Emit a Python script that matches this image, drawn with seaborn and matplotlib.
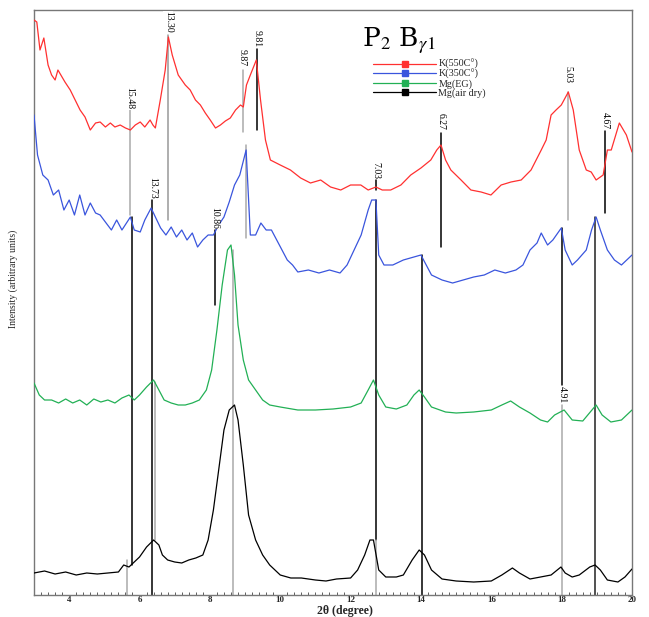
import numpy as np
import pandas as pd
import matplotlib
matplotlib.use("Agg")
import matplotlib.pyplot as plt
from matplotlib.lines import Line2D
import seaborn as sns

sns.set_theme(style="white")
plt.rcParams["font.family"] = ["Liberation Serif", "DejaVu Serif"]
plt.rcParams["mathtext.fontset"] = "stix"

# ---------------- data ----------------
k550_x = [3.0, 3.08, 3.17, 3.28, 3.40, 3.5, 3.60, 3.68, 3.88, 4.03, 4.17, 4.31, 4.45, 4.60, 4.75, 4.88,
          5.03, 5.17, 5.3, 5.45, 5.6, 5.74, 5.88, 6.02, 6.15, 6.30, 6.38, 6.45, 6.59, 6.73, 6.82, 6.93,
          7.10, 7.30, 7.44, 7.59, 7.73, 7.87, 8.01, 8.16, 8.30, 8.44, 8.58, 8.73, 8.87, 8.95, 9.04, 9.15,
          9.32, 9.44, 9.58, 9.72, 10.0, 10.29, 10.58, 10.86, 11.15, 11.43, 11.72, 12.0, 12.29, 12.5,
          12.72, 12.9, 13.14, 13.43, 13.71, 14.0, 14.28, 14.45, 14.57, 14.7, 14.85, 15.14, 15.42, 15.71,
          15.99, 16.28, 16.56, 16.85, 17.13, 17.42, 17.56, 17.70, 17.84, 17.99, 18.19, 18.33, 18.5, 18.7,
          18.84, 18.98, 19.18, 19.30, 19.41, 19.64, 19.84, 20.0]
k550_y = [575, 573, 545, 557, 530, 520, 515, 525, 513, 505, 495, 485, 478, 465, 472, 473,
          468, 472, 468, 470, 467, 465, 470, 473, 468, 475, 470, 467, 495, 525, 558, 540,
          520, 510, 505, 495, 490, 482, 475, 467, 470, 474, 477, 485, 490, 488, 510, 520,
          535, 495, 455, 435, 430, 425, 417, 412, 415, 408, 405, 410, 410, 405,
          408, 405, 405, 410, 420, 427, 435, 445, 450, 435, 425, 415, 405, 403,
          400, 410, 413, 415, 425, 445, 455, 480, 485, 490, 503, 485, 445, 425,
          423, 415, 420, 445, 445, 472, 460, 443]

k350_x = [3.0, 3.1, 3.25, 3.4, 3.55, 3.7, 3.85, 4.0, 4.15, 4.3, 4.45, 4.6, 4.75, 4.88, 5.05, 5.2,
          5.35, 5.5, 5.74, 5.85, 6.02, 6.15, 6.33, 6.45, 6.6, 6.75, 6.9, 7.05, 7.2, 7.35, 7.5, 7.65,
          7.8, 7.95, 8.1, 8.25, 8.4, 8.55, 8.7, 8.85, 9.03, 9.15, 9.3, 9.45, 9.6, 9.75, 9.9, 10.05,
          10.2, 10.35, 10.5, 10.8, 11.1, 11.4, 11.7, 11.9, 12.1, 12.3, 12.5, 12.6, 12.72, 12.8, 12.95,
          13.2, 13.5, 13.8, 14.0, 14.15, 14.3, 14.6, 14.9, 15.2, 15.5, 15.8, 16.1, 16.4, 16.7, 16.9,
          17.1, 17.3, 17.42, 17.6, 17.75, 17.99, 18.1, 18.3, 18.45, 18.7, 18.85, 18.98, 19.1, 19.3,
          19.5, 19.7, 19.85, 20.0]
k350_y = [480, 440, 420, 415, 400, 405, 385, 395, 380, 400, 380, 392, 382, 380, 372, 365,
          375, 365, 378, 365, 363, 375, 387, 378, 367, 360, 368, 358, 365, 355, 362, 348,
          355, 360, 360, 370, 378, 393, 410, 420, 445, 360, 360, 372, 365, 365, 355, 345,
          335, 330, 323, 325, 322, 325, 322, 330, 345, 360, 385, 395, 395, 340, 330,
          330, 335, 338, 340, 330, 320, 315, 312, 315, 318, 320, 325, 322, 325, 330,
          345, 352, 362, 350, 355, 367, 345, 330, 335, 345, 365, 378, 365, 345,
          335, 330, 335, 340]

mgeg_x = [3.0, 3.15, 3.3, 3.5, 3.7, 3.9, 4.1, 4.3, 4.5, 4.7, 4.9, 5.1, 5.3, 5.5, 5.7, 5.85, 6.0,
          6.2, 6.4, 6.55, 6.7, 6.9, 7.1, 7.3, 7.5, 7.7, 7.9, 8.05, 8.2, 8.35, 8.5, 8.6, 8.7, 8.8,
          8.95, 9.1, 9.3, 9.5, 9.7, 10.0, 10.5, 11.0, 11.5, 12.0, 12.3, 12.5, 12.65, 12.8, 13.0,
          13.3, 13.6, 13.8, 13.95, 14.1, 14.3, 14.7, 15.0, 15.5, 16.0, 16.3, 16.55, 16.8, 17.1,
          17.4, 17.6, 17.8, 18.07, 18.3, 18.6, 18.98, 19.15, 19.4, 19.7, 20.0]
mgeg_y = [212, 200, 195, 195, 192, 196, 192, 195, 190, 196, 193, 195, 192, 197, 200, 195, 200,
          208, 215, 205, 195, 192, 190, 190, 192, 195, 205, 225, 265, 310, 345, 350, 320, 270,
          235, 215, 205, 195, 190, 188, 185, 185, 186, 188, 192, 205, 215, 200, 188,
          186, 190, 200, 205, 198, 188, 183, 182, 183, 185, 190, 194, 188, 182,
          175, 173, 180, 185, 175, 174, 190, 180, 173, 175, 185]

mgair_x = [3.0, 3.3, 3.6, 3.9, 4.2, 4.5, 4.8, 5.1, 5.4, 5.55, 5.7, 5.85, 6.0, 6.2, 6.4, 6.55,
           6.65, 6.8, 7.0, 7.2, 7.4, 7.6, 7.8, 7.95, 8.1, 8.25, 8.4, 8.55, 8.7, 8.8, 8.95, 9.1,
           9.3, 9.5, 9.7, 10.0, 10.3, 10.6, 11.0, 11.3, 11.6, 12.0, 12.2, 12.4, 12.55, 12.65, 12.8,
           13.0, 13.3, 13.5, 13.75, 13.95, 14.1, 14.3, 14.6, 15.0, 15.5, 16.0, 16.3, 16.6, 16.8,
           17.1, 17.4, 17.7, 17.98, 18.1, 18.3, 18.5, 18.8, 18.95, 19.1, 19.3, 19.6, 19.8, 20.0]
mgair_y = [22, 24, 21, 23, 20, 22, 21, 22, 23, 30, 28, 33, 38, 48, 55, 50,
           40, 35, 33, 32, 35, 37, 40, 55, 85, 125, 165, 185, 190, 175, 130, 80,
           55, 40, 30, 20, 17, 17, 15, 14, 16, 17, 25, 40, 55, 55, 25,
           18, 18, 20, 35, 45, 40, 25, 16, 14, 13, 14, 20, 27, 22,
           16, 18, 20, 28, 22, 18, 20, 28, 30, 25, 15, 13, 18, 26]

series_names = ["K(550C°)", "K(350C°)", "Mg(EG)", "Mg(air dry)"]
series_colors = ["#ff3030", "#3a55dd", "#22b055", "#000000"]

# peak labels (d-spacing text, 2theta, label centre intensity)
peak_text = ["15.48", "13.30", "9.87", "9.81", "13.73", "10.86", "7.03", "6.27", "5.03", "4.67", "4.91"]
peak_2theta = [5.72, 6.82, 8.93, 9.33, 6.36, 8.15, 12.72, 14.57, 18.19, 19.24, 18.02]
peak_label_y = [497, 573, 537, 556, 407, 377, 425, 474, 520, 474, 200]

# marker lines (2theta, top, bottom, colour)
line_2theta = [5.72, 6.82, 8.93, 9.33, 6.36, 8.15, 12.72, 12.72, 12.72, 14.57, 18.19, 19.24,
               5.79, 5.65, 6.44, 9.03, 8.67, 14.02, 18.0, 18.02, 18.95]
line_top = [485, 560, 525, 546, 395, 365, 415, 395, 55, 462, 503, 464,
            378, 35, 213, 450, 345, 340, 367, 190, 378]
line_bottom = [380, 375, 463, 465, 0, 290, 405, 55, 0, 348, 375, 382,
               30, 0, 55, 357, 0, 0, 210, 0, 0]
line_color = ["#aaaaaa", "#999999", "#aaaaaa", "#000000", "#000000", "#000000", "#000000", "#000000",
              "#aaaaaa", "#000000", "#aaaaaa", "#000000",
              "#000000", "#aaaaaa", "#aaaaaa", "#aaaaaa", "#aaaaaa", "#000000", "#000000", "#aaaaaa",
              "#222222"]

# ---------------- figure ----------------
frames = []
for name, xs, ys in zip(series_names, [k550_x, k350_x, mgeg_x, mgair_x],
                        [k550_y, k350_y, mgeg_y, mgair_y]):
    frames.append(pd.DataFrame({"two_theta": xs, "intensity": ys, "sample": name}))
df = pd.concat(frames, ignore_index=True)

fig = plt.figure(figsize=(6.49, 6.17), dpi=100)
ax = fig.add_axes([34 / 649, 22 / 617, (632 - 34) / 649, (595 - 10) / 617])

for x, t, b, c in zip(line_2theta, line_top, line_bottom, line_color):
    ax.plot([x, x], [b, t], color=c, lw=1.1, zorder=1)

sns.lineplot(data=df, x="two_theta", y="intensity", hue="sample", hue_order=series_names,
             palette=dict(zip(series_names, series_colors)), estimator=None, sort=False,
             lw=0.9, legend=False, ax=ax, zorder=3)

for txt, x, y in zip(peak_text, peak_2theta, peak_label_y):
    ax.text(x, y, txt, rotation=270, ha="center", va="center", fontsize=7,
            color="black", zorder=4,
            bbox=dict(boxstyle="square,pad=0.05", fc="white", ec="none"))

ax.set_xlim(3, 20)
ax.set_ylim(0, 585)
ax.set_xticks(np.arange(4, 21, 2))
ax.set_xticklabels([str(v) for v in range(4, 21, 2)], fontsize=6.5, fontweight="bold")
ax.set_xticks(np.arange(3, 20.01, 0.2), minor=True)
ax.set_yticks([])
ax.tick_params(axis="x", which="major", direction="in", length=4, width=0.8, pad=1.0, color="#444444")
ax.tick_params(axis="x", which="minor", direction="in", length=2, width=0.6, color="#444444",
               bottom=True)
for s in ax.spines.values():
    s.set_color("#777777")
    s.set_linewidth(1.0)

ax.set_xlabel("2θ (degree)", fontsize=8.5, fontweight="bold", labelpad=0, va="center")
ax.xaxis.set_label_coords(0.52, -0.0275)
ax.set_ylabel("Intensity (arbitrary units)", fontsize=7)
ax.yaxis.set_label_coords(-0.027, 0.54)

ax.text(0.548, 0.947, r"P$_2$ B$_{\gamma1}$", transform=ax.transAxes, fontsize=19,
        ha="left", va="center", family="serif", color="black")

handles = [Line2D([0], [0], color=c, lw=0.9, marker="s", markersize=4.5,
                  markerfacecolor=c, markeredgecolor=c) for c in series_colors]
leg = ax.legend(handles, series_names, loc="upper left", bbox_to_anchor=(0.556, 0.926),
                frameon=False, fontsize=7.3, handlelength=6.3, handletextpad=0.2,
                labelspacing=-0.02, borderpad=0.1)

fig.savefig("out.png", dpi=100)
